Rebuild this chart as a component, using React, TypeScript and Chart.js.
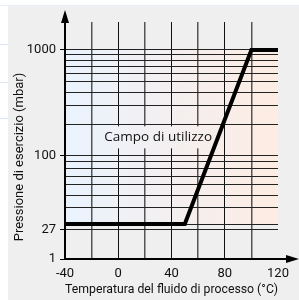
import React, { useEffect, useRef } from 'react';
import { Chart, registerables, LogarithmicScale } from 'chart.js';

// ---- data ----
const temperatures = [-40, 50, 100, 120];
const pressures = [30, 30, 1000, 1000];
const xGridValues = [-40, -20, 0, 20, 40, 60, 80, 100, 120];
const xTickValues = [-40, 0, 40, 80, 120];
const yTickValues = [1, 27, 100, 1000];
const yTickLabels = ['1', '27', '100', '1000'];
const yGridValues = [27, 30, 40, 50, 60, 70, 80, 90, 100, 200, 300, 400, 500, 600, 700, 800, 900, 1000];
const areaLabel = 'Campo di utilizzo';
const areaLabelAt = { x: 30, y: 160 };
const fillRange = { xMin: -40, xMax: 120, yMin: 30, yMax: 1000 };
const xTitle = 'Temperatura del fluido di processo (°C)';
const yTitle = 'Pressione di esercizio (mbar)';

// broken log axis: value knots and their share of the axis height
const KNOT_VALUES = [1, 27, 100, 1000, 1840];
const KNOT_FRACTIONS = [0, 0.1224, 0.4346, 0.8819, 1];

class BrokenLogScale extends LogarithmicScale {
  static id = 'brokenLog';
  static defaults = LogarithmicScale.defaults;
  getPixelForValue(value: number) {
    const v = Math.max(value, KNOT_VALUES[0]);
    const lv = Math.log10(v);
    let f = 1;
    for (let i = 0; i < KNOT_VALUES.length - 1; i++) {
      const a = Math.log10(KNOT_VALUES[i]);
      const b = Math.log10(KNOT_VALUES[i + 1]);
      if (lv <= b || i === KNOT_VALUES.length - 2) {
        f = KNOT_FRACTIONS[i] + ((lv - a) / (b - a)) * (KNOT_FRACTIONS[i + 1] - KNOT_FRACTIONS[i]);
        break;
      }
    }
    return (this as any).bottom - f * ((this as any).bottom - (this as any).top);
  }
  getValueForPixel(pixel: number) {
    const s: any = this;
    const f = (s.bottom - pixel) / (s.bottom - s.top);
    for (let i = 0; i < KNOT_FRACTIONS.length - 1; i++) {
      if (f <= KNOT_FRACTIONS[i + 1] || i === KNOT_FRACTIONS.length - 2) {
        const a = Math.log10(KNOT_VALUES[i]);
        const b = Math.log10(KNOT_VALUES[i + 1]);
        const t = (f - KNOT_FRACTIONS[i]) / (KNOT_FRACTIONS[i + 1] - KNOT_FRACTIONS[i]);
        return Math.pow(10, a + t * (b - a));
      }
    }
    return KNOT_VALUES[KNOT_VALUES.length - 1];
  }
}

Chart.register(...registerables, BrokenLogScale);

const TICK_FONT = 'Roboto, "Liberation Sans Narrow", sans-serif';

const decorPlugin = {
  id: 'decor',
  beforeDraw(chart: any) {
    const { ctx, scales } = chart;
    const x = scales.x, y = scales.y;
    const x0 = x.getPixelForValue(fillRange.xMin);
    const x1 = x.getPixelForValue(fillRange.xMax);
    const y0 = y.getPixelForValue(fillRange.yMax);
    const y1 = y.getPixelForValue(fillRange.yMin);
    const g = ctx.createLinearGradient(x0, 0, x1, 0);
    g.addColorStop(0, '#eaf3fd');
    g.addColorStop(1, '#fdece3');
    chart.$fillGradient = g;
    ctx.save();
    ctx.fillStyle = g;
    ctx.fillRect(x0, y0, x1 - x0, y1 - y0);
    ctx.restore();
  },
  beforeDatasetsDraw(chart: any) {
    const { ctx, scales } = chart;
    const cx = scales.x.getPixelForValue(areaLabelAt.x);
    const cy = scales.y.getPixelForValue(areaLabelAt.y);
    ctx.save();
    ctx.font = '13.5px "Open Sans", sans-serif';
    const w = ctx.measureText(areaLabel).width;
    ctx.fillStyle = chart.$fillGradient || '#f4f2f3';
    ctx.fillRect(cx - w / 2 - 4, cy - 8, w + 8, 22);
    ctx.fillStyle = '#111';
    ctx.textAlign = 'center';
    ctx.textBaseline = 'middle';
    ctx.fillText(areaLabel, cx, cy + 3);
    ctx.restore();
  },
  afterDraw(chart: any) {
    const { ctx, chartArea } = chart;
    const l = chartArea.left, b = chartArea.bottom;
    ctx.save();
    ctx.strokeStyle = '#000';
    ctx.fillStyle = '#000';
    ctx.lineWidth = 2;
    // y axis
    ctx.beginPath();
    ctx.moveTo(l, b + 1);
    ctx.lineTo(l, 20);
    ctx.stroke();
    ctx.beginPath();
    ctx.moveTo(l, 10);
    ctx.lineTo(l - 4, 23);
    ctx.lineTo(l + 4, 23);
    ctx.closePath();
    ctx.fill();
    // x axis
    ctx.beginPath();
    ctx.moveTo(l - 1, b);
    ctx.lineTo(289, b);
    ctx.stroke();
    ctx.beginPath();
    ctx.moveTo(299, b);
    ctx.lineTo(286, b - 4);
    ctx.lineTo(286, b + 4);
    ctx.closePath();
    ctx.fill();
    // y title
    ctx.translate(20, 157);
    ctx.rotate(-Math.PI / 2);
    ctx.font = '13px ' + TICK_FONT;
    ctx.fillStyle = '#111';
    ctx.textAlign = 'center';
    ctx.textBaseline = 'middle';
    ctx.fillText(yTitle, 0, 0);
    ctx.restore();
  },
};

export default function App() {
  const ref = useRef<HTMLCanvasElement | null>(null);
  useEffect(() => {
    const canvas = ref.current;
    if (!canvas) return;
    const chart = new Chart(canvas, {
      type: 'line',
      data: {
        datasets: [
          {
            data: temperatures.map((t, i) => ({ x: t, y: pressures[i] })),
            borderColor: '#000',
            borderWidth: 4,
            pointRadius: 0,
            borderJoinStyle: 'miter',
            borderCapStyle: 'butt',
            tension: 0,
            fill: false,
          },
        ],
      },
      options: {
        animation: false,
        responsive: false,
        maintainAspectRatio: false,
        layout: { padding: { left: 8, top: 22, right: 21, bottom: 0 } },
        plugins: { legend: { display: false }, tooltip: { enabled: false } },
        scales: {
          x: {
            type: 'linear',
            min: -40,
            max: 120,
            afterFit: (s: any) => { s.height = 41; },
            afterBuildTicks: (s: any) => { s.ticks = xGridValues.map((v) => ({ value: v })); },
            border: { display: false },
            grid: {
              drawTicks: false,
              color: (c: any) => {
                const v = c.tick && c.tick.value;
                if (v === -40 || v === 120) return 'rgba(0,0,0,0)';
                return xTickValues.includes(v) ? '#111' : '#555';
              },
              lineWidth: (c: any) => (xTickValues.includes(c.tick && c.tick.value) ? 1 : 1.5),
            },
            ticks: {
              autoSkip: false,
              maxRotation: 0,
              padding: 7,
              color: '#111',
              font: { family: TICK_FONT, size: 13 },
              callback: (v: any) => (xTickValues.includes(Number(v)) ? String(v) : ''),
            },
            title: {
              display: true,
              text: xTitle,
              color: '#111',
              padding: { top: 2, bottom: 2 },
              font: { family: TICK_FONT, size: 13 },
            },
          },
          y: {
            type: 'brokenLog' as any,
            min: 1,
            max: 1840,
            afterFit: (s: any) => { s.width = 57; },
            afterBuildTicks: (s: any) => {
              s.ticks = [1, ...yGridValues].map((v) => ({ value: v }));
            },
            border: { display: false },
            grid: {
              tickLength: 5,
              color: (c: any) => (c.tick && c.tick.value === 1 ? 'rgba(0,0,0,0)' : '#222'),
              tickColor: (c: any) => (yTickValues.includes(c.tick && c.tick.value) ? '#000' : 'rgba(0,0,0,0)'),
              lineWidth: 1,
            },
            ticks: {
              autoSkip: false,
              padding: 4,
              color: '#111',
              font: { family: TICK_FONT, size: 13 },
              callback: (v: any) => {
                const i = yTickValues.indexOf(Number(v));
                return i >= 0 ? yTickLabels[i] : '';
              },
            },
            title: { display: false },
          },
        },
      },
      plugins: [decorPlugin],
    } as any);
    return () => chart.destroy();
  }, []);

  return (
    <div style={{ position: 'fixed', left: 0, top: 0, width: 299, height: 300, background: '#fff', overflow: 'hidden' }}>
      <div style={{ position: 'absolute', left: 0, top: 5, width: 299, height: 1, background: '#e6eef7' }} />
      {[44, 82, 118].map((t) => (
        <div key={t} style={{ position: 'absolute', left: 0, top: t, width: 8, height: 1, background: '#d9e6f3' }} />
      ))}
      <div style={{ position: 'absolute', left: 8, top: 6, width: 291, height: 294, background: '#efefef' }} />
      <canvas ref={ref} width={299} height={300} style={{ position: 'absolute', left: 0, top: 0, width: 299, height: 300 }} />
    </div>
  );
}
